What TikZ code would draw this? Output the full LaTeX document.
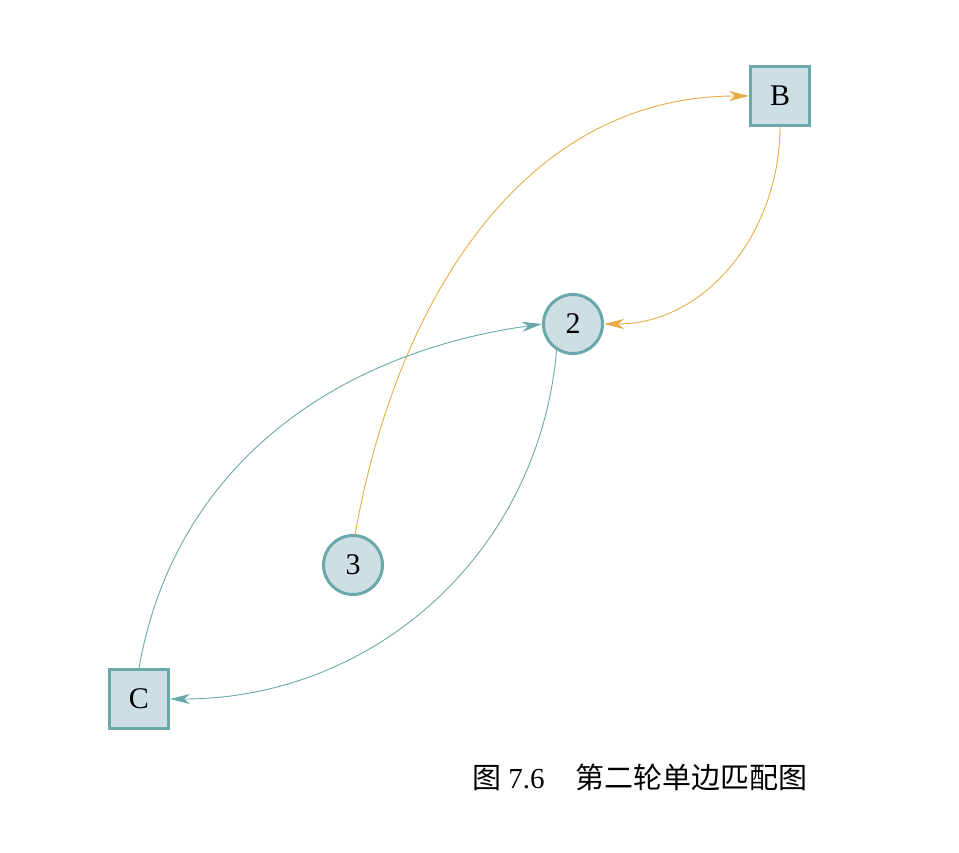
\documentclass[tikz,border=0pt]{standalone}
\usepackage{fontspec}
\setmainfont{Liberation Serif}
\newfontfamily\cjk{Noto Sans CJK SC}
\usetikzlibrary{arrows.meta}
\definecolor{tealb}{HTML}{6AA8A9}
\definecolor{nfill}{HTML}{CDDFE3}
\definecolor{orng}{HTML}{E8AC45}
\begin{document}
\begin{tikzpicture}[x=1pt,y=1pt,
  sq/.style={draw=tealb, fill=nfill, line width=3pt, minimum size=59pt, inner sep=0pt, font=\fontsize{30}{32}\selectfont},
  cir/.style={circle, draw=tealb, fill=nfill, line width=3pt, minimum size=59pt, inner sep=0pt, font=\fontsize{30}{32}\selectfont},
  tip/.style={-{Stealth[length=20pt,width=10pt,inset=6pt]}},
  oe/.style={draw=orng, line width=0.9pt, tip, fill=none},
  te/.style={draw=tealb, line width=0.9pt, tip, fill=none}]
\useasboundingbox (0,0) rectangle (959,-853);
\node[sq] (B) at (780,-96) {B};
\node[cir] (n2) at (573,-324) {2};
\node[cir] (n3) at (353,-565) {3};
\node[sq] (C) at (139,-699) {C};
\draw[oe] (n3.86) to[out=80,in=180] (B.west);
\draw[oe] (B.south) to[out=270,in=0] (n2.east);
\draw[te] (C.north) to[out=80,in=188] (n2.west);
\draw[te] (n2.238) to[out=265,in=0] (C.east);
\node[anchor=base west, inner sep=0pt, font=\fontsize{29}{31}\selectfont] (cap) at (472,-788) {{\cjk 图} 7.6\hspace{1.05em}{\cjk 第二轮单边匹配图}};
\end{tikzpicture}
\end{document}
